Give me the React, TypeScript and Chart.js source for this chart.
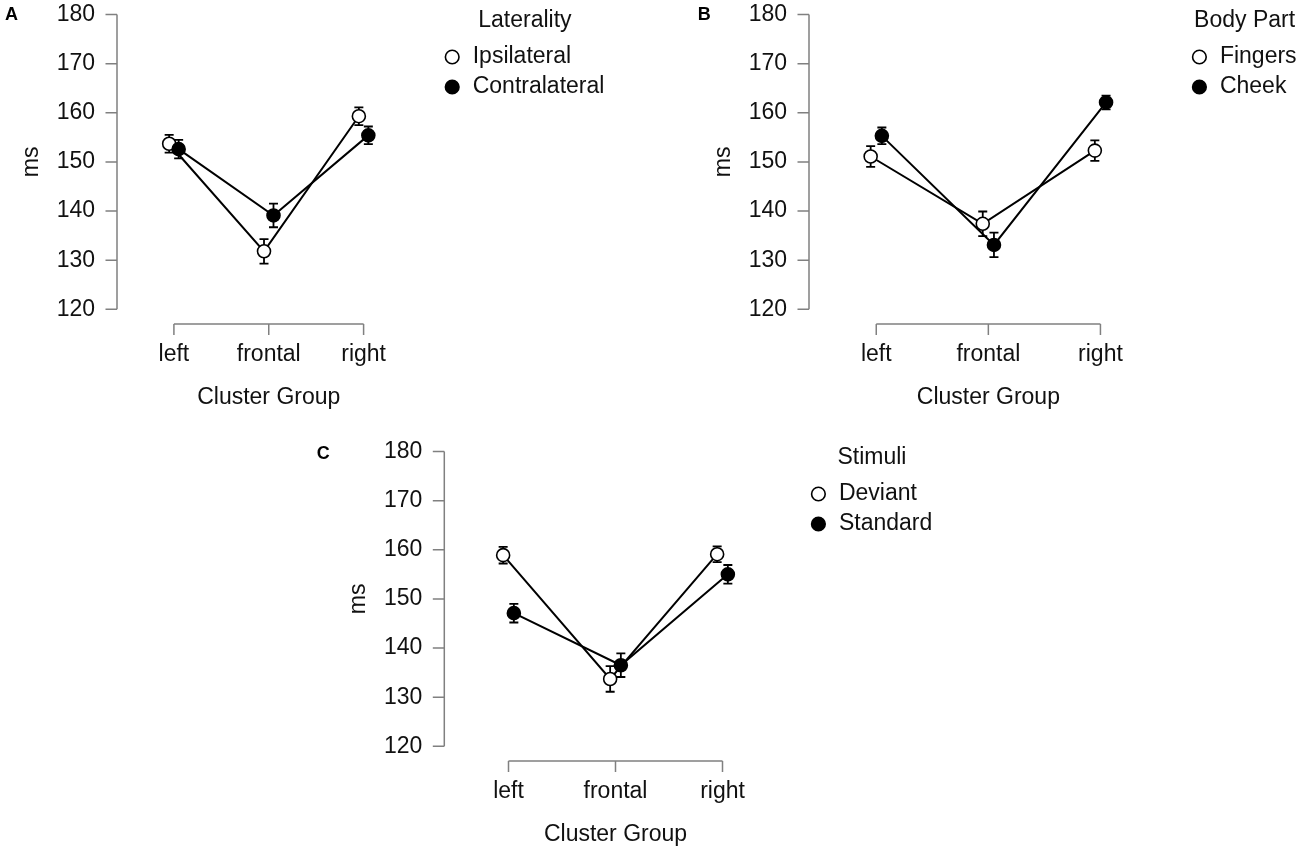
import { useEffect, useRef } from "react"
import { Chart, registerables } from "chart.js"

Chart.register(...registerables)

const FONT = '"Liberation Sans", Arial, Helvetica, sans-serif'
Chart.defaults.font.family = FONT
Chart.defaults.color = "#111"

// shared axes
const clusters = ["left", "frontal", "right"]
const yTicks = [120, 130, 140, 150, 160, 170, 180]

// A: Laterality
const ipsilateral = [153.7, 131.8, 159.3]
const ipsilateralErr = [1.8, 2.5, 1.8]
const contralateral = [152.6, 139.1, 155.4]
const contralateralErr = [1.9, 2.4, 1.8]

// B: Body Part
const fingers = [151.1, 137.4, 152.3]
const fingersErr = [2.1, 2.5, 2.1]
const cheek = [155.3, 133.1, 162.1]
const cheekErr = [1.7, 2.5, 1.4]

// C: Stimuli
const deviant = [158.9, 133.7, 159.1]
const deviantErr = [1.7, 2.6, 1.6]
const standard = [147.1, 136.5, 155.0]
const standardErr = [1.9, 2.4, 1.9]

type Series = { label: string; values: number[]; errors: number[]; filled: boolean }
type Panel = {
  letter: string
  legendTitle: string
  series: Series[]
  left: number
  top: number
  width: number
  padLeft: number
  plotWidth: number
  letterX: number
  letterY: number
}

const DODGE = 0.05
const HEIGHT = 412
const PLOT_TOP = 14.5
const PLOT_H = 294.8
const Y_AXIS_W = 117
const X_AXIS_H = 102.5
const TEXT_SIZE = 23

const panels: Panel[] = [
  {
    letter: "A",
    legendTitle: "Laterality",
    series: [
      { label: "Ipsilateral", values: ipsilateral, errors: ipsilateralErr, filled: false },
      { label: "Contralateral", values: contralateral, errors: contralateralErr, filled: true },
    ],
    left: 0,
    top: 0,
    width: 650,
    padLeft: 0,
    plotWidth: 303.5,
    letterX: 5,
    letterY: 20,
  },
  {
    letter: "B",
    legendTitle: "Body Part",
    series: [
      { label: "Fingers", values: fingers, errors: fingersErr, filled: false },
      { label: "Cheek", values: cheek, errors: cheekErr, filled: true },
    ],
    left: 692.3,
    top: 0,
    width: 607.7,
    padLeft: 0,
    plotWidth: 359.4,
    letterX: 5.7,
    letterY: 20,
  },
  {
    letter: "C",
    legendTitle: "Stimuli",
    series: [
      { label: "Deviant", values: deviant, errors: deviantErr, filled: false },
      { label: "Standard", values: standard, errors: standardErr, filled: true },
    ],
    left: 300,
    top: 436.5,
    width: 660,
    padLeft: 27.3,
    plotWidth: 342.4,
    letterX: 16.7,
    letterY: 21.5,
  },
]

function PanelChart({ panel }: { panel: Panel }) {
  const chartRef = useRef<HTMLCanvasElement>(null)
  const chartInstance = useRef<Chart | null>(null)

  useEffect(() => {
    if (!chartRef.current) return

    if (chartInstance.current) {
      chartInstance.current.destroy()
    }

    const ctx = chartRef.current.getContext("2d")
    if (!ctx) return

    // R base-graphics look: detached axes, error bars, legend, panel letter
    const rStyle = {
      id: "rStyle",
      beforeDatasetsDraw(chart: any) {
        const c = chart.ctx
        const yScale = chart.scales.y
        c.save()
        c.strokeStyle = "#000"
        c.lineWidth = 1.8
        panel.series.forEach((s, i) => {
          const meta = chart.getDatasetMeta(i)
          s.values.forEach((v, j) => {
            const x = meta.data[j].x
            const yHi = yScale.getPixelForValue(v + s.errors[j])
            const yLo = yScale.getPixelForValue(v - s.errors[j])
            c.beginPath()
            c.moveTo(x, yHi)
            c.lineTo(x, yLo)
            c.moveTo(x - 4.5, yHi)
            c.lineTo(x + 4.5, yHi)
            c.moveTo(x - 4.5, yLo)
            c.lineTo(x + 4.5, yLo)
            c.stroke()
          })
        })
        c.restore()
      },
      afterDraw(chart: any) {
        const c = chart.ctx
        const { left, right, bottom } = chart.chartArea
        const xScale = chart.scales.x
        const yScale = chart.scales.y
        c.save()

        // axes
        c.strokeStyle = "#808080"
        c.lineWidth = 1.5
        c.beginPath()
        c.moveTo(left, yScale.getPixelForValue(yTicks[0]))
        c.lineTo(left, yScale.getPixelForValue(yTicks[yTicks.length - 1]))
        yTicks.forEach((t) => {
          const y = yScale.getPixelForValue(t)
          c.moveTo(left - 11.5, y)
          c.lineTo(left, y)
        })
        const axisY = bottom + 14.7
        c.moveTo(xScale.getPixelForValue(1), axisY)
        c.lineTo(xScale.getPixelForValue(clusters.length), axisY)
        clusters.forEach((_, i) => {
          const x = xScale.getPixelForValue(i + 1)
          c.moveTo(x, axisY)
          c.lineTo(x, axisY + 11)
        })
        c.stroke()

        // legend
        c.font = `${TEXT_SIZE}px ${FONT}`
        c.fillStyle = "#111"
        c.textBaseline = "middle"
        const cx = right + 31.7
        const tx = cx + 20.5
        let maxW = 0
        panel.series.forEach((s, i) => {
          const y = 57 + i * 30
          c.beginPath()
          c.arc(cx, y, 6.8, 0, Math.PI * 2)
          c.fillStyle = s.filled ? "#000" : "#fff"
          c.fill()
          c.strokeStyle = "#000"
          c.lineWidth = 1.6
          c.stroke()
          c.fillStyle = "#111"
          c.textAlign = "left"
          c.fillText(s.label, tx, y)
          maxW = Math.max(maxW, c.measureText(s.label).width)
        })
        c.textAlign = "center"
        c.fillText(panel.legendTitle, (cx - 6.8 + tx + maxW) / 2, 20.5)

        // panel letter
        c.font = `bold 18px ${FONT}`
        c.textAlign = "left"
        c.textBaseline = "alphabetic"
        c.fillStyle = "#000"
        c.fillText(panel.letter, panel.letterX, panel.letterY)
        c.restore()
      },
    }

    chartInstance.current = new Chart(ctx, {
      type: "line",
      data: {
        datasets: panel.series.map((s) => ({
          label: s.label,
          data: s.values.map((v, i) => ({ x: i + 1 + (s.filled ? DODGE : -DODGE), y: v })),
          borderColor: "#000",
          borderWidth: 2,
          pointRadius: 6.5,
          pointHoverRadius: 6.5,
          pointBorderWidth: 1.6,
          pointBackgroundColor: s.filled ? "#000" : "#fff",
          pointBorderColor: "#000",
          order: s.filled ? 1 : 2,
          tension: 0,
          fill: false,
          clip: false as any,
        })),
      },
      options: {
        responsive: false,
        animation: false,
        events: [],
        layout: {
          padding: {
            left: panel.padLeft,
            top: PLOT_TOP,
            right: panel.width - panel.padLeft - Y_AXIS_W - panel.plotWidth,
            bottom: HEIGHT - PLOT_TOP - PLOT_H - X_AXIS_H,
          },
        },
        plugins: {
          legend: { display: false },
          tooltip: { enabled: false },
        },
        scales: {
          x: {
            type: "linear",
            min: 0.4,
            max: 3.6,
            grid: { display: false, drawTicks: false, tickLength: 0 },
            border: { display: false },
            afterBuildTicks: (scale: any) => {
              scale.ticks = clusters.map((_, i) => ({ value: i + 1 }))
            },
            ticks: {
              autoSkip: false,
              maxRotation: 0,
              padding: 32,
              color: "#111",
              font: { size: TEXT_SIZE },
              callback: (_v: any, index: number) => clusters[index],
            },
            title: {
              display: true,
              text: "Cluster Group",
              color: "#111",
              font: { size: TEXT_SIZE },
              padding: { top: 0, bottom: 0 },
            },
            afterFit: (scale: any) => {
              scale.height = X_AXIS_H
              scale.paddingLeft = 0
              scale.paddingRight = 0
            },
          },
          y: {
            min: yTicks[0],
            max: yTicks[yTicks.length - 1],
            grid: { display: false, drawTicks: false, tickLength: 0 },
            border: { display: false },
            afterBuildTicks: (scale: any) => {
              scale.ticks = yTicks.map((v) => ({ value: v }))
            },
            ticks: {
              padding: 22,
              color: "#111",
              font: { size: TEXT_SIZE },
            },
            title: {
              display: true,
              text: "ms",
              color: "#111",
              font: { size: TEXT_SIZE },
              padding: { top: 17.5, bottom: 0 },
            },
            afterFit: (scale: any) => {
              scale.width = Y_AXIS_W
              scale.paddingTop = 0
              scale.paddingBottom = 0
            },
          },
        },
      },
      plugins: [rStyle],
    })

    return () => {
      if (chartInstance.current) {
        chartInstance.current.destroy()
        chartInstance.current = null
      }
    }
  }, [panel])

  return (
    <div style={{ position: "absolute", left: panel.left, top: panel.top, width: panel.width, height: HEIGHT }}>
      <canvas ref={chartRef} width={panel.width} height={HEIGHT} />
    </div>
  )
}

export default function App() {
  return (
    <div
      style={{
        position: "absolute",
        left: 0,
        top: 0,
        width: 1300,
        height: 854,
        overflow: "hidden",
        background: "#fff",
      }}
    >
      {panels.map((p) => (
        <PanelChart key={p.letter} panel={p} />
      ))}
    </div>
  )
}
